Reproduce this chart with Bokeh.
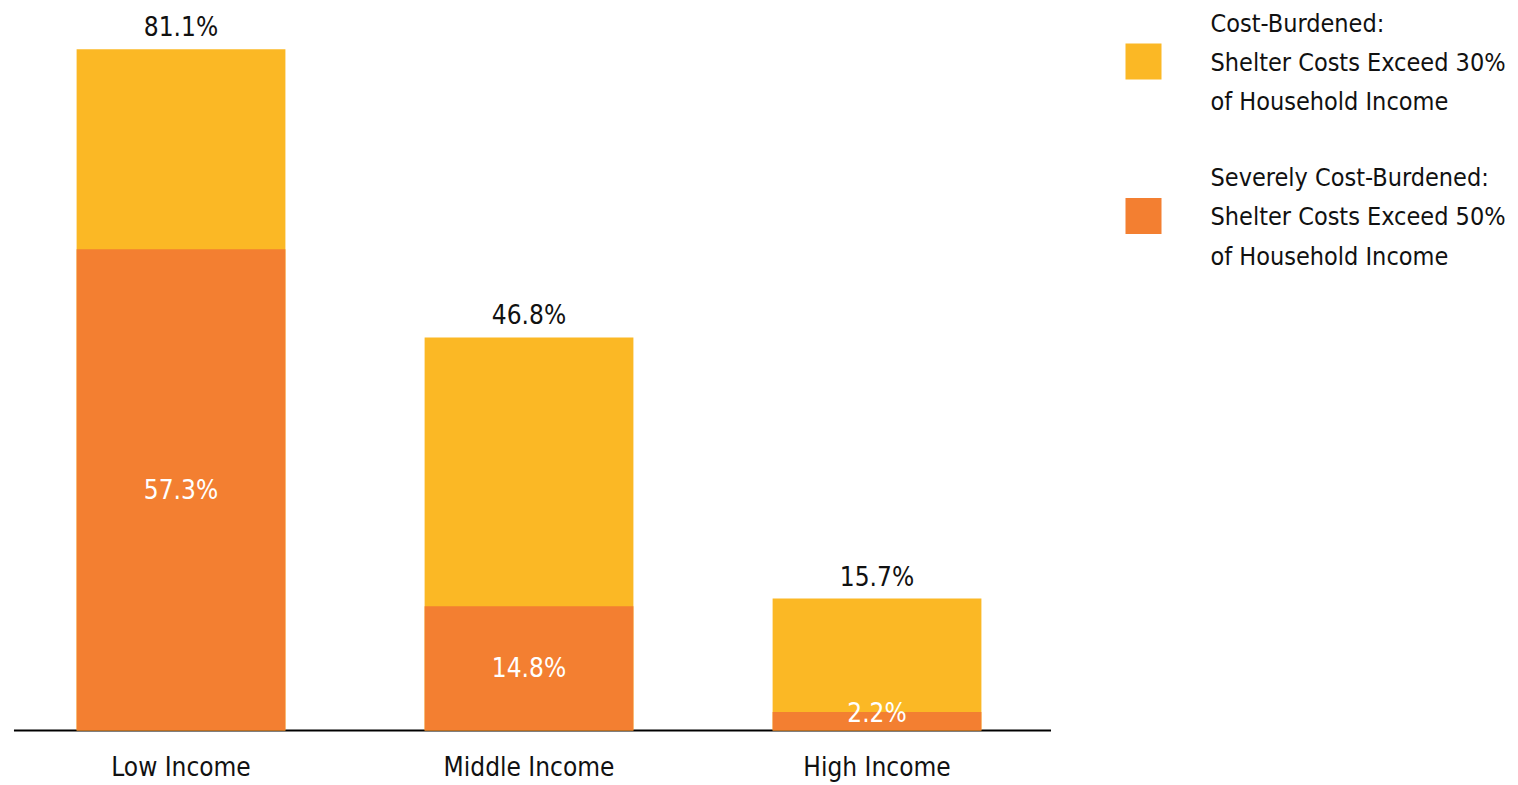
from bokeh.plotting import figure
from bokeh.models import ColumnDataSource, Range1d
from bokeh.layouts import row
from bokeh.core.properties import value
from bokeh.embed import file_html
from bokeh.resources import INLINE

categories = ["Low Income", "Middle Income", "High Income"]
cost_burdened = [81.1, 46.8, 15.7]
severely_burdened = [57.3, 14.8, 2.2]
legend_labels = [
    ["Cost-Burdened:", "Shelter Costs Exceed 30%", "of Household Income"],
    ["Severely Cost-Burdened:", "Shelter Costs Exceed 50%", "of Household Income"],
]

YELLOW = "#FBB825"
ORANGE = "#F37F31"
FONT = value("DejaVu Sans Condensed")

xs = list(range(len(categories)))
src = ColumnDataSource(dict(
    x=xs,
    cat=categories,
    cb=cost_burdened,
    sb=severely_burdened,
    cb_lab=[f"{v:.1f}%" for v in cost_burdened],
    sb_lab=[f"{v:.1f}%" for v in severely_burdened],
    sb_mid=[max(v / 2, 2.1) for v in severely_burdened],
    zero=[0] * len(xs),
))

W, H = 1108, 785
p = figure(width=W, height=H, output_backend="svg", toolbar_location=None,
           x_range=Range1d(-0.5187, 2.6652), y_range=Range1d(-6.548, 86.905),
           min_border=0, min_border_left=0, min_border_right=0,
           min_border_top=0, min_border_bottom=0)
p.axis.visible = False
p.grid.visible = False
p.outline_line_color = None

# baseline
p.segment(x0=[-0.48], y0=[0], x1=[len(categories) - 0.5], y1=[0], line_color="black", line_width=2)

p.vbar(x="x", top="cb", bottom=0, width=0.6, source=src, fill_color=YELLOW, line_color=None)
p.vbar(x="x", top="sb", bottom=0, width=0.6, source=src, fill_color=ORANGE, line_color=None)

p.text(x="x", y="cb", text="cb_lab", source=src, text_font=FONT, text_font_size="26px",
       text_align="center", text_baseline="middle", y_offset=-22, text_color="#111111")
p.text(x="x", y="sb_mid", text="sb_lab", source=src, text_font=FONT, text_font_size="26px",
       text_align="center", text_baseline="middle", text_color="white")
p.text(x="x", y="zero", text="cat", source=src, text_font=FONT, text_font_size="26px",
       text_align="center", text_baseline="middle", y_offset=37, text_color="#111111")

# legend panel
lw, lh = 1518 - W, H
lg = figure(width=lw, height=lh, output_backend="svg", toolbar_location=None,
            x_range=Range1d(0, lw), y_range=Range1d(lh, 0),
            min_border=0, min_border_left=0, min_border_right=0,
            min_border_top=0, min_border_bottom=0)
lg.axis.visible = False
lg.grid.visible = False
lg.outline_line_color = None

colors = [YELLOW, ORANGE]
group_top = [22.5, 177]
line_gap = 39.3
sw_x, sw_y, sw_size = [35, 35], [g + 38.5 for g in group_top], 36
lg.rect(x=sw_x, y=sw_y, width=sw_size, height=sw_size, fill_color=colors, line_color=None)
tx, ty, tt = [], [], []
for g, lines in zip(group_top, legend_labels):
    for i, t in enumerate(lines):
        tx.append(102)
        ty.append(g + i * line_gap)
        tt.append(t)
lg.text(x=tx, y=ty, text=tt, text_font=FONT, text_font_size="25px",
        text_align="left", text_baseline="middle", text_color="#111111")

layout = row(p, lg, spacing=0)
open("out.html", "w").write(file_html(layout, INLINE))
